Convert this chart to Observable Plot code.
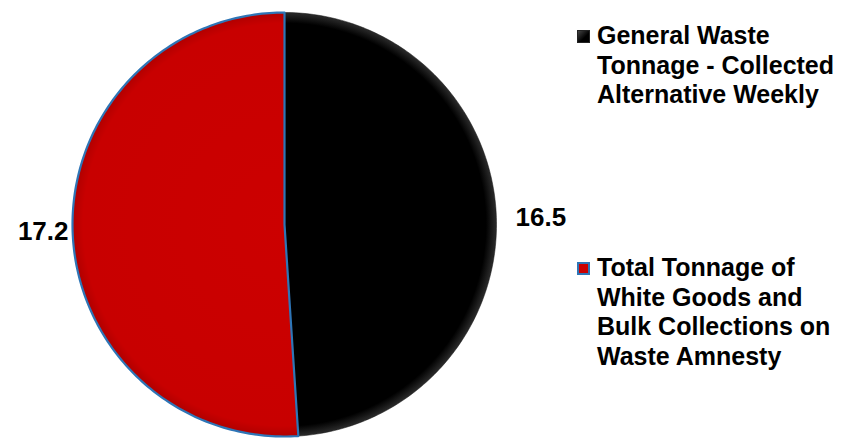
<!DOCTYPE html>
<html>
<head>
<meta charset="utf-8">
<script src="https://cdn.jsdelivr.net/npm/d3@7"></script>
<script src="https://cdn.jsdelivr.net/npm/@observablehq/plot@0.6"></script>
<style>
  body { margin: 0; background: #fff; }
  #wrap { position: relative; width: 845px; height: 438px; font-family: "Liberation Sans", Arial, sans-serif; }
  #wrap svg { position: absolute; left: 0; top: 0; }
  .leg { position: absolute; left: 577px; font-weight: bold; font-size: 25px; line-height: 29.5px; color: #000; }
  .leg .sw { position: absolute; left: 0; width: 13px; height: 13px; top: 9px; box-sizing: border-box; }
  .leg .tx { margin-left: 20px; width: 268px; }
</style>
</head>
<body>
<div id="wrap"></div>
<script>
// ---- data ----
const categories = [
  "General Waste Tonnage - Collected Alternative Weekly",
  "Total Tonnage of White Goods and Bulk Collections on Waste Amnesty"
];
const values = [16.5, 17.2];
const labels = ["16.5", "17.2"];
const legendLines = [
  ["General Waste", "Tonnage - Collected", "Alternative Weekly"],
  ["Total Tonnage of", "White Goods and", "Bulk Collections on", "Waste Amnesty"]
];

// ---- geometry from data ----
const arcs = d3.pie().sort(null)(values);
function slicePolygon(a, cat) {
  const pts = [{x: 0, y: 0, cat}];
  const n = 180;
  for (let i = 0; i <= n; i++) {
    const t = a.startAngle + (a.endAngle - a.startAngle) * i / n;
    pts.push({x: Math.sin(t), y: Math.cos(t), cat});
  }
  pts.push({x: 0, y: 0, cat});
  return pts;
}
const slices = arcs.map((a, i) => slicePolygon(a, categories[i]));
const labelRows = arcs.map((a, i) => {
  const m = (a.startAngle + a.endAngle) / 2;
  return {x: 1.01 * Math.sin(m), y: 1.01 * Math.cos(m), label: labels[i], cat: categories[i]};
});

const fills = ["url(#gBlack)", "url(#gRed)"];

// gradient defs mark (uses the scales to place the gradient)
function defsMark(index, scales) {
  const cx = scales.x(0), cy = scales.y(0), r = scales.x(1) - scales.x(0);
  const ns = "http://www.w3.org/2000/svg";
  const g = document.createElementNS(ns, "g");
  g.innerHTML = `
  <defs>
    <radialGradient id="gBlack" gradientUnits="userSpaceOnUse" cx="${cx}" cy="${cy}" r="${r}">
      <stop offset="0" stop-color="#000"/>
      <stop offset="0.95" stop-color="#000"/>
      <stop offset="1" stop-color="#2b2b2b"/>
    </radialGradient>
    <radialGradient id="gRed" gradientUnits="userSpaceOnUse" cx="${cx}" cy="${cy}" r="${r}">
      <stop offset="0" stop-color="#cc0000"/>
      <stop offset="0.95" stop-color="#c80000"/>
      <stop offset="1" stop-color="#b00000"/>
    </radialGradient>
  </defs>`;
  return g;
}

const chart = Plot.plot({
  width: 845,
  height: 438,
  marginLeft: 72,
  marginRight: 349,
  marginTop: 12,
  marginBottom: 2,
  x: {domain: [-1, 1], axis: null},
  y: {domain: [-1, 1], axis: null},
  style: {fontFamily: '"Liberation Sans", Arial, sans-serif', background: "transparent", overflow: "visible"},
  marks: [
    defsMark,
    Plot.line(slices[0], {x: "x", y: "y", fill: fills[0], stroke: "#111", strokeWidth: 0.5, curve: "linear"}),
    Plot.line(slices[1], {x: "x", y: "y", fill: fills[1], stroke: "#2e75b6", strokeWidth: 2.2, curve: "linear", strokeLinejoin: "round"}),
    Plot.text([labelRows[0]], {x: "x", y: "y", text: "label", textAnchor: "start", dx: 17, fontSize: 26, fontWeight: "bold", fill: "#000", lineAnchor: "middle"}),
    Plot.text([labelRows[1]], {x: "x", y: "y", text: "label", textAnchor: "end", dx: -2, fontSize: 26, fontWeight: "bold", fill: "#000", lineAnchor: "middle"})
  ]
});

const wrap = document.getElementById("wrap");
wrap.appendChild(chart);

// legend
const legTops = [21, 253];
const swStyles = [
  "background: linear-gradient(135deg,#444,#000 60%); border: 1px solid #222;",
  "background: #cc0000; border: 2px solid #2e75b6;"
];
categories.forEach((c, i) => {
  const d = document.createElement("div");
  d.className = "leg";
  d.style.top = legTops[i] + "px";
  d.title = c;
  const sw = document.createElement("div");
  sw.className = "sw";
  sw.setAttribute("style", swStyles[i]);
  d.appendChild(sw);
  const tx = document.createElement("div");
  tx.className = "tx";
  tx.innerHTML = legendLines[i].join("<br>");
  d.appendChild(tx);
  wrap.appendChild(d);
});
</script>
</body>
</html>
